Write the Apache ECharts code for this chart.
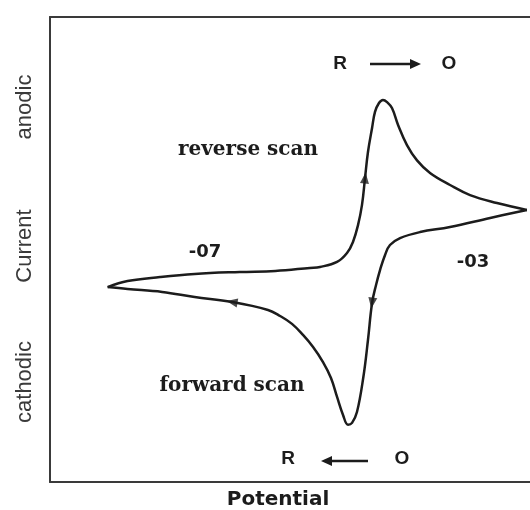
<!DOCTYPE html>
<html>
<head>
<meta charset="utf-8">
<title>Cyclic voltammogram</title>
<script src="https://cdn.jsdelivr.net/npm/echarts@6/dist/echarts.min.js"></script>
<style>
  html, body { margin: 0; padding: 0; background: #ffffff; }
  #chart { width: 530px; height: 510px; }
</style>
</head>
<body>
<div id="chart"></div>
<script>
// Reverse (anodic) scan: from -0.7 V up to -0.3 V, potential in V, current in arbitrary units
const reversePotential = [-0.700, -0.681, -0.650, -0.617, -0.574, -0.540, -0.507, -0.4974, -0.4811, -0.4716,
  -0.4659, -0.4611, -0.4573, -0.4544, -0.4516, -0.4477, -0.4449, -0.4411, -0.4373, -0.4334,
  -0.4287, -0.4229, -0.4144, -0.4048, -0.3924, -0.3733, -0.3542, -0.3285, -0.300];
const reverseCurrent = [0.06, 0.37, 0.58, 0.74, 0.84, 0.89, 1.05, 1.10, 1.36, 1.82,
  2.39, 3.26, 4.30, 5.69, 7.03, 8.27, 9.10, 9.56, 9.72, 9.61,
  9.30, 8.43, 7.39, 6.60, 5.95, 5.33, 4.81, 4.40, 4.04];

// Forward (cathodic) scan: from -0.3 V down to -0.7 V
const forwardPotential = [-0.300, -0.335, -0.3733, -0.4019, -0.421, -0.4306, -0.4353, -0.4401, -0.4439, -0.4477,
  -0.4516, -0.456, -0.4621, -0.4668, -0.4706, -0.4754, -0.4811, -0.4869, -0.4945, -0.504,
  -0.5136, -0.5241, -0.5355, -0.547, -0.5813, -0.617, -0.648, -0.681, -0.700];
const forwardCurrent = [4.04, 3.63, 3.16, 2.90, 2.59, 2.23, 1.72, 0.94, 0.17, -0.76,
  -2.67, -4.58, -6.39, -6.95, -7.05, -6.54, -5.61, -4.63, -3.81, -3.03,
  -2.41, -1.84, -1.43, -1.12, -0.71, -0.45, -0.19, -0.04, 0.06];

// Scan-direction arrowheads sitting on the curve
const arrowPotential = [-0.4544, -0.4477, -0.5813];
const arrowCurrent = [5.69, -0.76, -0.71];

// Axis ranges
const potentialRange = [-0.755, -0.297];
const currentRange = [-10, 14];

// Text
const axisNameX = 'Potential';
const currentLabels = ['anodic', 'Current', 'cathodic'];
const scanLabels = ['reverse scan', 'forward scan'];
const vertexLabels = ['-07', '-03'];
const species = ['R', 'O'];

// Arrowhead orientation (degrees, counter-clockwise from pointing up)
const arrowAngles = [-6, 172, 80];

const zip = (a, b) => a.map((v, i) => [v, b[i]]);

const ink = '#1c1c1c';
const axisInk = '#3a3a3a';
const sansBold = 'bold 19px "Liberation Sans", Arial, sans-serif';
const serifBold = 'bold 20px "DejaVu Serif", "Liberation Serif", serif';
const sideFont = '22px "Liberation Sans", Arial, sans-serif';
const vertexFont = 'bold 18px "DejaVu Sans", sans-serif';

function txt(text, x, y, font, fill, rotation) {
  return {
    type: 'text', x: x, y: y, rotation: rotation || 0, silent: true,
    style: { text: text, font: font, fill: fill || ink, align: 'center', verticalAlign: 'middle' }
  };
}

function arrow(x1, x2, y, pointsLeft) {
  const tip = pointsLeft ? x1 : x2;
  const back = pointsLeft ? tip + 11 : tip - 11;
  return [
    { type: 'line', silent: true,
      shape: { x1: pointsLeft ? x1 + 6 : x1, y1: y, x2: pointsLeft ? x2 : x2 - 6, y2: y },
      style: { stroke: ink, lineWidth: 2.5 } },
    { type: 'polygon', silent: true,
      shape: { points: [[tip, y], [back, y - 5], [back, y + 5]] },
      style: { fill: ink } }
  ];
}

const chart = echarts.init(document.getElementById('chart'), null, { renderer: 'canvas' });

const hiddenAxisBits = {
  axisTick: { show: false }, axisLabel: { show: false }, splitLine: { show: false }
};

const curveStyle = {
  type: 'line', smooth: 0.4, symbol: 'none', silent: true,
  lineStyle: { color: ink, width: 2.5 }
};

chart.setOption({
  animation: false,
  backgroundColor: '#ffffff',
  grid: { left: 50, right: 0, top: 17, bottom: 28, outerBoundsMode: 'none', containLabel: false },
  xAxis: [
    Object.assign({
      type: 'value', position: 'bottom', min: potentialRange[0], max: potentialRange[1],
      axisLine: { show: true, onZero: false, lineStyle: { color: axisInk, width: 2 } }
    }, hiddenAxisBits),
    Object.assign({
      type: 'value', position: 'top', min: potentialRange[0], max: potentialRange[1],
      axisLine: { show: true, onZero: false, lineStyle: { color: axisInk, width: 2 } }
    }, hiddenAxisBits)
  ],
  yAxis: Object.assign({
    type: 'value', min: currentRange[0], max: currentRange[1],
    axisLine: { show: true, onZero: false, lineStyle: { color: axisInk, width: 2 } }
  }, hiddenAxisBits),
  series: [
    Object.assign({ name: 'reverse', data: zip(reversePotential, reverseCurrent) }, curveStyle),
    Object.assign({ name: 'forward', data: zip(forwardPotential, forwardCurrent) }, curveStyle),
    {
      name: 'direction', type: 'scatter', silent: true, z: 5,
      symbol: 'triangle', symbolSize: [9, 11],
      itemStyle: { color: ink },
      data: zip(arrowPotential, arrowCurrent).map((p, i) => ({ value: p, symbolRotate: arrowAngles[i] }))
    }
  ],
  graphic: [
    txt(axisNameX, 278, 500, 'bold 20px "DejaVu Sans", sans-serif'),
    txt(currentLabels[0], 25, 107, sideFont, axisInk, Math.PI / 2),
    txt(currentLabels[1], 25, 246, sideFont, axisInk, Math.PI / 2),
    txt(currentLabels[2], 25, 382, sideFont, axisInk, Math.PI / 2),
    txt(scanLabels[0], 248, 150, serifBold),
    txt(scanLabels[1], 232, 386, serifBold),
    txt(vertexLabels[0], 205, 252, vertexFont),
    txt(vertexLabels[1], 473, 262, vertexFont),
    txt(species[0], 340, 64, sansBold),
    txt(species[1], 449, 64, sansBold),
    ...arrow(370, 421, 64, false),
    txt(species[0], 288, 459, sansBold),
    txt(species[1], 402, 459, sansBold),
    ...arrow(321, 368, 461, true)
  ]
});
</script>
</body>
</html>
